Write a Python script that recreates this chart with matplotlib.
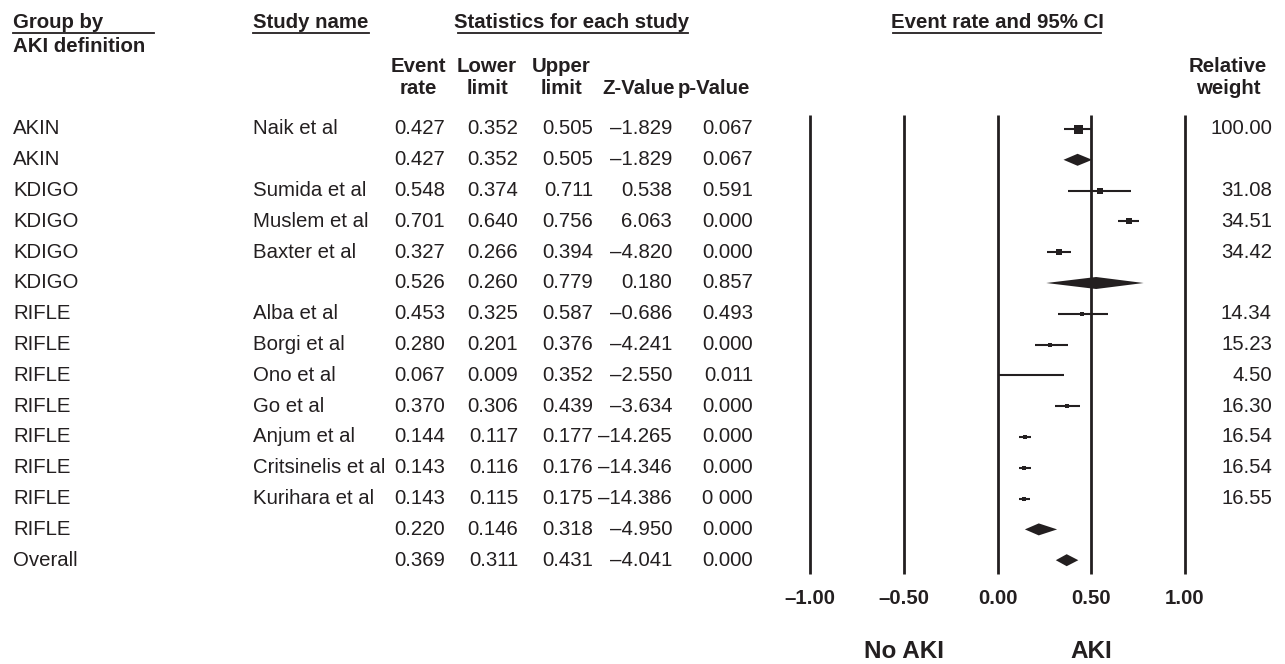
import matplotlib
matplotlib.use("Agg")
import matplotlib.pyplot as plt
from matplotlib.patches import Polygon
import numpy as np

plt.rcParams['font.family'] = ['Liberation Sans', 'DejaVu Sans']

# Data
groups = ['AKIN', 'AKIN', 'KDIGO', 'KDIGO', 'KDIGO', 'KDIGO', 'RIFLE', 'RIFLE',
          'RIFLE', 'RIFLE', 'RIFLE', 'RIFLE', 'RIFLE', 'RIFLE', 'Overall']
studies = ['Naik et al', '', 'Sumida et al', 'Muslem et al', 'Baxter et al', '',
           'Alba et al', 'Borgi et al', 'Ono et al', 'Go et al', 'Anjum et al',
           'Critsinelis et al', 'Kurihara et al', '', '']
event_rate = [0.427, 0.427, 0.548, 0.701, 0.327, 0.526, 0.453, 0.280, 0.067,
              0.370, 0.144, 0.143, 0.143, 0.220, 0.369]
lower = [0.352, 0.352, 0.374, 0.640, 0.266, 0.260, 0.325, 0.201, 0.009,
         0.306, 0.117, 0.116, 0.115, 0.146, 0.311]
upper = [0.505, 0.505, 0.711, 0.756, 0.394, 0.779, 0.587, 0.376, 0.352,
         0.439, 0.177, 0.176, 0.175, 0.318, 0.431]
z_value = [-1.829, -1.829, 0.538, 6.063, -4.820, 0.180, -0.686, -4.241, -2.550,
           -3.634, -14.265, -14.346, -14.386, -4.950, -4.041]
p_value = ['0.067', '0.067', '0.591', '0.000', '0.000', '0.857', '0.493', '0.000',
           '0.011', '0.000', '0.000', '0.000', '0 000', '0.000', '0.000']
weights = [100.00, None, 31.08, 34.51, 34.42, None, 14.34, 15.23, 4.50, 16.30,
           16.54, 16.54, 16.55, None, None]
ticks = [-1.0, -0.5, 0.0, 0.5, 1.0]

INK = '#231f20'
FS = 14.7

fig = plt.figure(figsize=(12.85, 6.64), dpi=100)
ax = fig.add_axes([0, 0, 1, 1])
ax.axis('off')

# pixel -> data helpers for layout (x = event rate scale, y = row index)
X0, XU = 997.5, 187.5
Y0, YU = 129.0, 30.8
def px_x(p):
    return (p - X0) / XU
def px_y(p):
    return (p - Y0) / YU

ax.set_xlim(px_x(0), px_x(1285))
ax.set_ylim(px_y(664), px_y(0))

rows = np.arange(len(event_rate))

# reference lines
ax.vlines(ticks, px_y(115), px_y(574), color=INK, lw=2.0)
for t in ticks:
    lab = f"{t:.2f}".replace('-', '\u2013')
    ax.text(t, px_y(598), lab, ha='center', va='center', fontsize=FS,
            fontweight='bold', color=INK)
ax.text(-0.5, px_y(652), 'No AKI', ha='center', va='center', fontsize=17.5,
        fontweight='bold', color=INK)
ax.text(0.5, px_y(652), 'AKI', ha='center', va='center', fontsize=17.5,
        fontweight='bold', color=INK)

# studies and summaries
h = 6.0 / YU
for i in rows:
    if studies[i] == '':
        d = Polygon([(lower[i], i), (event_rate[i], i - h), (upper[i], i),
                     (event_rate[i], i + h)], closed=True, color=INK, lw=0)
        ax.add_patch(d)
    else:
        ax.plot([lower[i], upper[i]], [i, i], color=INK, lw=1.5,
                solid_capstyle='butt')
        side = max(9.0 * np.sqrt(weights[i] / 100.0), 1.8) * 0.72
        ax.scatter([event_rate[i]], [i], marker='s', s=side ** 2, color=INK,
                   linewidths=0, zorder=3)

# table columns
for i in rows:
    ax.text(px_x(13), i, groups[i], ha='left', va='center', fontsize=FS, color=INK)
    ax.text(px_x(253), i, studies[i], ha='left', va='center', fontsize=FS, color=INK)
    ax.text(px_x(445), i, f"{event_rate[i]:.3f}", ha='right', va='center',
            fontsize=FS, color=INK)
    ax.text(px_x(518), i, f"{lower[i]:.3f}", ha='right', va='center',
            fontsize=FS, color=INK)
    ax.text(px_x(593), i, f"{upper[i]:.3f}", ha='right', va='center',
            fontsize=FS, color=INK)
    ax.text(px_x(672), i, f"{z_value[i]:.3f}".replace('-', '\u2013'), ha='right',
            va='center', fontsize=FS, color=INK)
    ax.text(px_x(753), i, p_value[i], ha='right', va='center', fontsize=FS,
            color=INK)
    if weights[i] is not None:
        ax.text(px_x(1272), i, f"{weights[i]:.2f}", ha='right', va='center',
                fontsize=FS, color=INK)

# headers
def head(px, py, s, ha='left'):
    ax.text(px_x(px), px_y(py), s, ha=ha, va='center', fontsize=FS,
            fontweight='bold', color=INK)

head(13, 22, 'Group by')
head(13, 46, 'AKI definition')
head(253, 22, 'Study name')
head(572, 22, 'Statistics for each study', ha='center')
head(997, 22, 'Event rate and 95% CI', ha='center')

underlines = [(13, 154), (253, 369), (458, 688), (893, 1101)]
for a, b in underlines:
    ax.plot([px_x(a), px_x(b)], [px_y(33), px_y(33)], color=INK, lw=1.3)

col_heads = [(418, 'Event', 'rate'), (487, 'Lower', 'limit'), (561, 'Upper', 'limit'),
             (639, '', 'Z-Value'), (714, '', 'p-Value'), (1228, 'Relative', 'weight')]
for cx, l1, l2 in col_heads:
    if l1:
        head(cx, 66, l1, ha='center')
    head(cx, 88, l2, ha='center')

fig.savefig('out.png', dpi=100)
